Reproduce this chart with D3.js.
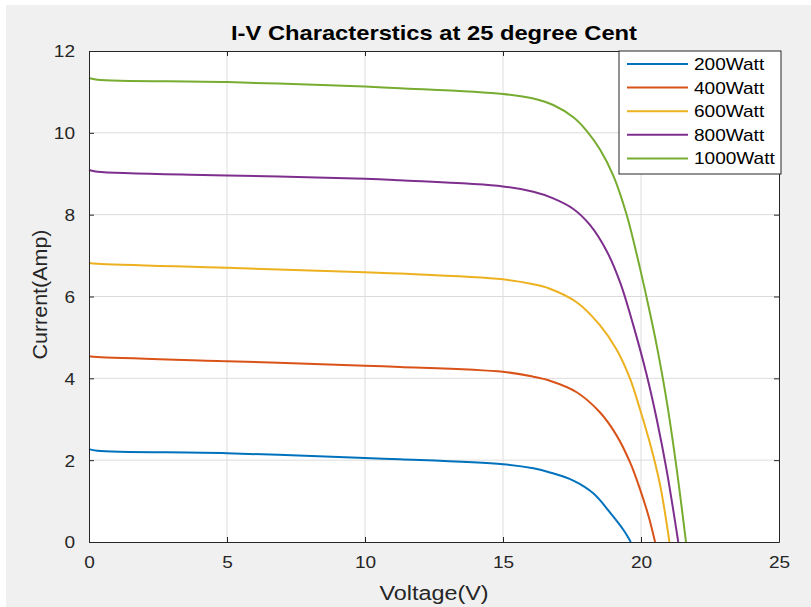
<!DOCTYPE html>
<html lang="en">
<head>
    <meta charset="UTF-8">
    <title>I-V Characterstics</title>
    <script src="https://cdnjs.cloudflare.com/ajax/libs/d3/7.9.0/d3.min.js"></script>
    <style>
        body { margin: 0; background: #fff; }
        svg { display: block; font-family: "Liberation Sans", Arial, sans-serif; }
        .tick text { fill: #262626; font-size: 17px; }
        .grid line { stroke: #dcdcdc; stroke-width: 1; }
        .series { fill: none; stroke-width: 2; }
    </style>
</head>
<body>
<div id="chart"></div>
<script>
    // values: voltage (V) and current (A) per irradiance
    const seriesNames = ["200Watt", "400Watt", "600Watt", "800Watt", "1000Watt"];
    const colors = ["#0072BD", "#D95319", "#EDB120", "#7E2F8E", "#77AC30"];

    const volt200 = [0, 0.3, 5, 10, 11.27, 15, 16.1, 16.7, 17.55, 18.27, 18.88, 19.36, 19.63];
    const amp200  = [2.27, 2.23, 2.17, 2.05, 2.02, 1.90, 1.80, 1.70, 1.50, 1.19, 0.72, 0.30, 0];

    const volt400 = [0, 0.3, 5, 10, 11.27, 15, 16.1, 16.7, 17.67, 18.51, 19.12, 19.6, 19.96, 20.27, 20.51];
    const amp400  = [4.54, 4.52, 4.42, 4.31, 4.28, 4.16, 4.04, 3.94, 3.66, 3.17, 2.60, 1.95, 1.30, 0.64, 0];

    const volt600 = [0, 0.3, 5, 10, 11.27, 15, 16.1, 16.7, 17.67, 18.51, 19.12, 19.6, 19.96, 20.33, 20.69, 21.03];
    const amp600  = [6.82, 6.80, 6.70, 6.59, 6.56, 6.42, 6.30, 6.19, 5.86, 5.30, 4.70, 4.00, 3.25, 2.40, 1.40, 0];

    const volt800 = [0, 0.3, 5, 10, 11.27, 15, 16.1, 16.82, 17.55, 18.15, 18.75, 19.24, 19.72, 20.2, 20.57, 20.93, 21.35];
    const amp800  = [9.09, 9.05, 8.96, 8.88, 8.84, 8.69, 8.56, 8.40, 8.14, 7.75, 7.12, 6.35, 5.30, 4.10, 3.00, 1.75, 0];

    const volt1000 = [0, 0.3, 5, 10, 11.27, 15, 16.1, 16.82, 17.55, 18.03, 18.51, 19.0, 19.48, 19.96, 20.26, 20.57, 20.93, 21.29, 21.63];
    const amp1000  = [11.34, 11.30, 11.24, 11.13, 11.09, 10.95, 10.84, 10.68, 10.38, 10.05, 9.60, 8.95, 8.00, 6.70, 5.80, 4.80, 3.45, 1.80, 0];

    const xTicks = [0, 5, 10, 15, 20, 25];
    const yTicks = [0, 2, 4, 6, 8, 10, 12];

    const voltages = [volt200, volt400, volt600, volt800, volt1000];
    const currents = [amp200, amp400, amp600, amp800, amp1000];

    const width = 811, height = 607;
    const margin = { top: 51, right: 32, bottom: 65, left: 89 };
    const innerW = width - margin.left - margin.right;
    const innerH = height - margin.top - margin.bottom;
    const stretch = 1.12; // the reference text looks a bit wide

    const svg = d3.select("#chart").append("svg")
        .attr("width", width)
        .attr("height", height);

    // figure background (thin white edge on top/left like the screenshot)
    svg.append("rect").attr("x", 6).attr("y", 5)
        .attr("width", width - 6).attr("height", height - 5)
        .attr("fill", "#f0f0f0");

    const g = svg.append("g").attr("transform", `translate(${margin.left},${margin.top})`);

    const x = d3.scaleLinear().domain([0, 25]).range([0, innerW]);
    const y = d3.scaleLinear().domain([0, 12]).range([innerH, 0]);

    g.append("rect").attr("width", innerW).attr("height", innerH).attr("fill", "#fff");

    // grid
    g.append("g").attr("class", "grid")
        .selectAll("line").data(xTicks.slice(1, -1)).join("line")
        .attr("x1", d => x(d)).attr("x2", d => x(d))
        .attr("y1", 0).attr("y2", innerH);
    g.append("g").attr("class", "grid")
        .selectAll("line").data(yTicks.slice(1, -1)).join("line")
        .attr("x1", 0).attr("x2", innerW)
        .attr("y1", d => y(d)).attr("y2", d => y(d));

    // curves
    const line = d3.line()
        .x(d => x(d[0]))
        .y(d => y(d[1]))
        .curve(d3.curveCatmullRom.alpha(0.5));

    seriesNames.forEach((name, i) => {
        const pts = voltages[i].map((v, k) => [v, currents[i][k]]);
        g.append("path")
            .attr("class", "series")
            .attr("d", line(pts))
            .attr("stroke", colors[i]);
    });

    // axes, ticks pointing inwards
    const xAxis = g.append("g")
        .attr("transform", `translate(0,${innerH})`)
        .call(d3.axisBottom(x).tickValues(xTicks).tickSizeInner(-5).tickSizeOuter(0).tickPadding(14));
    const xTop = g.append("g")
        .call(d3.axisTop(x).tickValues(xTicks).tickSizeInner(-5).tickSizeOuter(0).tickFormat(""));
    const yAxis = g.append("g")
        .call(d3.axisLeft(y).tickValues(yTicks).tickSizeInner(-5).tickSizeOuter(0).tickPadding(14));
    const yRight = g.append("g")
        .attr("transform", `translate(${innerW},0)`)
        .call(d3.axisRight(y).tickValues(yTicks).tickSizeInner(-5).tickSizeOuter(0).tickFormat(""));

    [xAxis, xTop, yAxis, yRight].forEach(a => {
        a.select(".domain").attr("stroke", "#262626");
        a.selectAll(".tick line").attr("stroke", "#262626");
    });
    xAxis.selectAll(".tick text").attr("font-family", null);
    yAxis.selectAll(".tick text").attr("font-family", null).attr("dy", "0.35em");

    function widen(sel, len) {
        sel.each(function () {
            const w = len || this.getComputedTextLength() * stretch;
            d3.select(this).attr("textLength", w).attr("lengthAdjust", "spacingAndGlyphs");
        });
    }
    widen(xAxis.selectAll(".tick text"));
    widen(yAxis.selectAll(".tick text"));

    // title and axis labels
    const title = svg.append("text")
        .attr("x", margin.left + innerW / 2).attr("y", 40)
        .attr("text-anchor", "middle")
        .attr("font-weight", "bold").attr("font-size", 21).attr("fill", "#000")
        .text("I-V Characterstics at 25 degree Cent");
    widen(title, 406);

    const xLabel = svg.append("text")
        .attr("x", margin.left + innerW / 2).attr("y", 600)
        .attr("text-anchor", "middle")
        .attr("font-size", 20).attr("fill", "#262626")
        .text("Voltage(V)");
    widen(xLabel, 109);

    const yLabel = svg.append("text")
        .attr("transform", `translate(47,${margin.top + innerH / 2 - 2}) rotate(-90)`)
        .attr("text-anchor", "middle")
        .attr("font-size", 20).attr("fill", "#262626")
        .text("Current(Amp)");
    widen(yLabel, 130);

    // legend
    const legend = svg.append("g").attr("transform", "translate(619,51)");
    legend.append("rect")
        .attr("width", 162).attr("height", 123)
        .attr("fill", "#fff").attr("stroke", "#262626");
    const rows = legend.selectAll("g.row").data(seriesNames).join("g")
        .attr("class", "row")
        .attr("transform", (d, i) => `translate(0,${13 + i * 23.6})`);
    rows.append("line")
        .attr("x1", 8).attr("x2", 69)
        .attr("stroke", (d, i) => colors[i]).attr("stroke-width", 2);
    const legText = rows.append("text")
        .attr("x", 75).attr("dy", "0.35em")
        .attr("font-size", 17).attr("fill", "#000")
        .text(d => d);
    widen(legText);
</script>
</body>
</html>
